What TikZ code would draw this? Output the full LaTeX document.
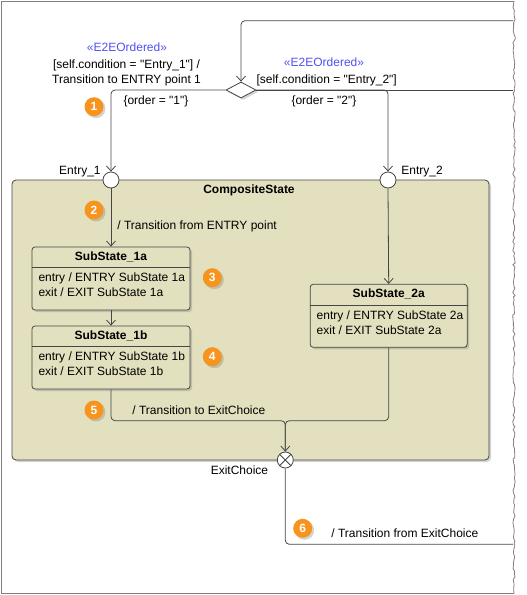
\documentclass[tikz,border=0pt]{standalone}
\usepackage{fontspec}
\setmainfont{Liberation Sans}[Ligatures=TeXOff]
\usetikzlibrary{arrows.meta,positioning,shapes.geometric,shadows,decorations.pathmorphing,calc}
\definecolor{compfill}{RGB}{226,224,190}
\definecolor{linegray}{RGB}{70,70,70}
\definecolor{framegray}{RGB}{128,128,128}
\definecolor{stereoblue}{RGB}{80,80,245}
\definecolor{badgeorange}{RGB}{247,148,29}

\begin{document}
\begin{tikzpicture}[x=1pt, y=-1pt,
    font=\fontsize{12}{15}\selectfont,
    line width=0.8pt,
    lbl/.style={inner sep=0pt},
    stereo/.style={lbl, text=stereoblue},
    shade/.style={drop shadow={shadow xshift=2pt, shadow yshift=-2pt, opacity=0.35}},
    state/.style={draw=linegray, fill=compfill, rounded corners=3pt, minimum width=158pt, minimum height=63pt, inner sep=0pt, shade},
    stitle/.style={lbl, font=\fontsize{12}{15}\selectfont\bfseries},
    pseudo/.style={circle, draw=linegray, fill=white, minimum size=16pt, inner sep=0pt},
    badge/.style={circle, fill=badgeorange, text=white, font=\fontsize{12}{12}\selectfont\bfseries, minimum size=19pt, inner sep=0pt, shade},
    trans/.style={draw=linegray, rounded corners=4pt},
    >={Straight Barb[length=5pt,width=9pt]}
]
\useasboundingbox (0,0) rectangle (527,595);
\draw[framegray] (514,1) -- (1,1) -- (1,593.5) -- (514,593.5);
\draw[framegray, decorate, decoration={random steps, segment length=3pt, amplitude=1.2pt}] (514,1) -- (514,593.5);

\node[draw=linegray, fill=compfill, rounded corners=4pt, minimum width=477pt, minimum height=280pt, shade] (comp) at (250.5,320) {};
\node[stitle] (comptitle) at (249,190) {CompositeState};

\node[state] (s1a) at (111,278.5) {};
\node[stitle] at ($(s1a.north)+(0,10)$) {SubState\_1a};
\draw[linegray] ($(s1a.north west)+(0,21)$) -- ($(s1a.north east)+(0,21)$);
\node[lbl, anchor=west, align=left] at ($(s1a.west)+(6.5,6.7)$) {entry / ENTRY SubState 1a\\exit / EXIT SubState 1a};

\node[state] (s1b) at (111,357.5) {};
\node[stitle] at ($(s1b.north)+(0,10)$) {SubState\_1b};
\draw[linegray] ($(s1b.north west)+(0,21)$) -- ($(s1b.north east)+(0,21)$);
\node[lbl, anchor=west, align=left] at ($(s1b.west)+(6.5,6.7)$) {entry / ENTRY SubState 1b\\exit / EXIT SubState 1b};

\node[state, minimum width=157pt] (s2a) at (388.7,315.8) {};
\node[stitle] at ($(s2a.north)+(0,10)$) {SubState\_2a};
\draw[linegray] ($(s2a.north west)+(0,21)$) -- ($(s2a.north east)+(0,21)$);
\node[lbl, anchor=west, align=left] at ($(s2a.west)+(6.5,6.7)$) {entry / ENTRY SubState 2a\\exit / EXIT SubState 2a};

\node[diamond, draw=linegray, fill=white, minimum width=30pt, minimum height=16pt, inner sep=0pt, shade] (choice) at (241,90) {};
\node[pseudo] (entry1) at (111,180) {};
\node[pseudo] (entry2) at (388,180) {};
\node[pseudo] (exitc) at (285.3,460) {};
\draw[linegray] (exitc.north west) -- (exitc.south east);
\draw[linegray] (exitc.north east) -- (exitc.south west);

\coordinate (topin) at (513,20.7);
\coordinate (rout) at (513,90);
\coordinate (merge) at (285.3,420.7);
\coordinate (exout) at (513,544.3);

\draw[trans, ->] (topin) -| (choice.north);
\draw[trans, ->] (choice.west) -| (entry1.north);
\draw[trans, ->] (choice.east) -| (entry2.north);
\draw[trans] (choice.east) -- (rout);
\draw[trans, ->] (entry1.south) -- (s1a.north);
\draw[trans, ->] (s1a.south) -- (s1b.north);
\draw[trans, ->] (entry2.south) -- (s2a.north);
\draw[trans] (s1b.south) |- (merge) -- (exitc.north);
\draw[trans, ->] (s2a.south) |- (merge) -- (exitc.north);
\draw[trans] (exitc.south) |- (exout);

\node[stereo] (e2e1) at (127,47.3) {«E2EOrdered»};
\node[lbl, align=center] (cond1) at (126.5,72.5) {[self.condition = "Entry\_1"] /\\Transition to ENTRY point 1};
\node[stereo] (e2e2) at (324,62.7) {«E2EOrdered»};
\node[lbl] (cond2) at (326.7,80.7) {[self.condition = "Entry\_2"]};
\node[lbl] (order1) at (156,101.7) {\{order = "1"\}};
\node[lbl] (order2) at (324,101.7) {\{order = "2"\}};
\node[lbl, anchor=east] (entry1lbl) at (101,171.7) {Entry\_1};
\node[lbl, anchor=west] (entry2lbl) at (401,172) {Entry\_2};
\node[lbl, anchor=west] (t2) at (117,226.7) {/ Transition from ENTRY point};
\node[lbl, anchor=west] (t5) at (132,410.7) {/ Transition to ExitChoice};
\node[lbl] (exitlbl) at (239.5,470.7) {ExitChoice};
\node[lbl, anchor=west] (t6) at (331,533.3) {/ Transition from ExitChoice};

\node[badge] (b1) at (94,106.7) {1};
\node[badge] (b2) at (94,210) {2};
\node[badge] (b3) at (212.3,277.7) {3};
\node[badge] (b4) at (212.3,356.7) {4};
\node[badge] (b5) at (94,410) {5};
\node[badge] (b6) at (302.7,528.3) {6};
\end{tikzpicture}
\end{document}
